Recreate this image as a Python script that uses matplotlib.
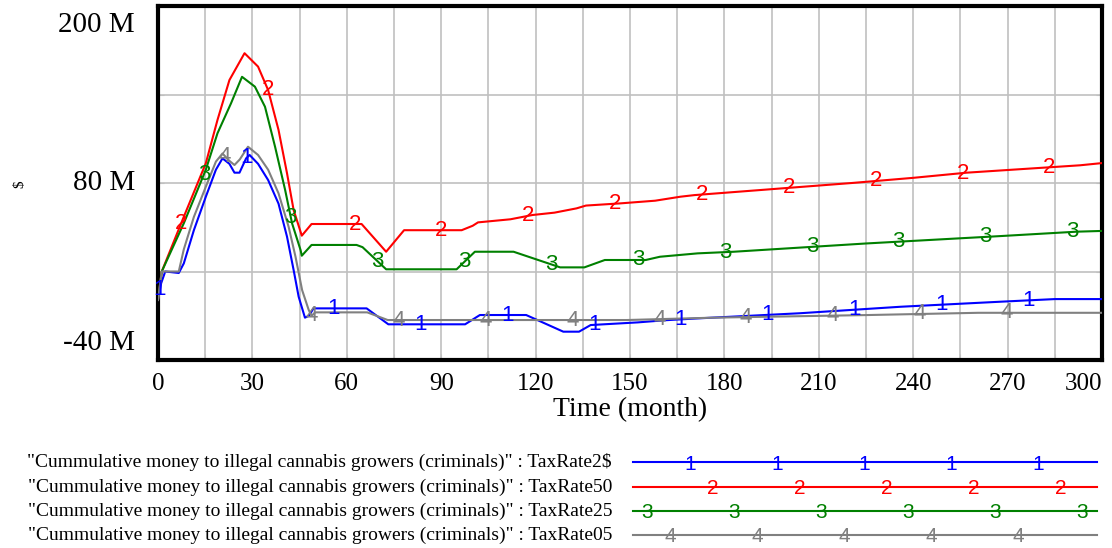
import numpy as np
import matplotlib
matplotlib.use("Agg")
import matplotlib.pyplot as plt
from matplotlib.lines import Line2D
from matplotlib.transforms import ScaledTranslation, blended_transform_factory

plt.rcParams['font.family'] = ['Liberation Serif', 'DejaVu Serif']

# ---------------------------------------------------------------------------
# data (time in months, value in M$)
# ---------------------------------------------------------------------------
t_2s = [0, 1, 2.3, 6.6, 8.2, 11.4, 15.2, 18.4, 20.5, 22.7, 24.3, 25.9, 28, 29.1,
        31.8, 35, 38.3, 41, 43.1, 44.7, 46.7, 48, 49.4, 66.3, 73.2, 97.6, 102.3,
        117, 128.8, 133.8, 137.5, 152.5, 161.5, 171.5, 204, 236, 267.6, 285, 300]
v_2s = [0.7, 12, 20, 19, 25.5, 48, 70.7, 89, 96.7, 93, 87, 87, 96.7, 99,
        93, 82, 66, 43.6, 21, 2.9, -11.3, -10, -5, -5, -15.8, -15.8, -9.5,
        -9.5, -20.8, -20.8, -16.3, -14.5, -13, -11.8, -8.3, -3.9, -0.5, 1.3, 1.3]

t_50 = [0, 1.2, 8.2, 15.2, 18.9, 22.7, 27.5, 31.8, 35, 38.3, 41, 43.1, 45.7,
        48.8, 64.7, 72.5, 78.2, 96.5, 100, 101.7, 112, 119, 126, 133, 136,
        147, 158, 166, 170.5, 190, 220.5, 240, 257, 275, 293, 300]
v_50 = [0.7, 20, 57.1, 93.4, 122.7, 149.8, 168, 158.9, 143, 116, 86.6, 61.7, 44.3,
        52.2, 52.2, 33.4, 48, 48, 51, 53.3, 55.4, 58.3, 59.9, 62.8, 64.7,
        66.2, 68, 70.7, 71.8, 75, 80, 83.5, 87, 89.5, 92, 93.5]

t_25 = [0, 1.2, 8.2, 15.2, 18.9, 23.2, 26.7, 30.8, 34, 37.2, 40.4, 42.6, 45.3,
        45.7, 48.8, 63.1, 65, 72.5, 94.9, 100.7, 113, 127.8, 135.5, 142, 155,
        159.5, 171.5, 183, 225, 267.6, 292, 300]
v_25 = [0.7, 20, 52.7, 89, 113.7, 134, 152, 145.3, 131.7, 104.6, 75.3, 52.7, 34.6,
        30.7, 38, 38, 36.5, 21.5, 21.5, 33.4, 33.4, 22.8, 22.8, 27.8, 27.8,
        30, 32.3, 33.4, 39, 44, 47, 47.5]

t_05 = [0, 1.2, 6.6, 8.2, 11.4, 15.2, 18.4, 20.5, 22.7, 24.3, 26, 28.6, 31.8, 35,
        38.3, 41.5, 43.7, 45.8, 47.9, 48.8, 50, 66.5, 73, 149, 176.5, 226,
        260.7, 300]
v_05 = [0.7, 20, 20, 35, 57, 77.5, 94.5, 100, 95, 92.2, 96, 104.6, 99, 89,
        73, 50.4, 30, 7.4, -6.1, -10, -7.7, -7.7, -12.9, -12.9, -11.3, -9.5,
        -8, -8]

series_names = ['TaxRate2$', 'TaxRate50', 'TaxRate25', 'TaxRate05']
series_t = [t_2s, t_50, t_25, t_05]
series_v = [v_2s, v_50, v_25, v_05]
series_colors = ['#0000ff', '#ff0000', '#008000', '#808080']
series_marks = ['1', '2', '3', '4']
mark_start = [0.6, 7.3, 14.6, 21.3]
mark_step = 27.6

x_ticks = list(range(0, 301, 30))
y_grid = [-40, 20, 80, 140, 200]
y_labels = ['-40 M', '80 M', '200 M']
y_label_pos = [-28.5, 80, 187]   # Vensim pulls the end labels inside the frame

var_label = '"Cummulative money to illegal cannabis growers (criminals)" : '

# ---------------------------------------------------------------------------
fig = plt.figure(figsize=(11.12, 5.48), dpi=100)
ax = fig.add_axes([158 / 1112, 1 - 360 / 548, (1102 - 158) / 1112, (360 - 6) / 548])

for t, v, c, m, s0 in zip(series_t, series_v, series_colors, series_marks, mark_start):
    ax.plot(t, v, color=c, lw=1.5, zorder=3)
    for tt in np.arange(s0, 292, mark_step):
        ax.text(tt, np.interp(tt, t, v), m, color=c, fontsize=16,
                family='Liberation Sans', ha='center', va='center', zorder=4)

ax.set_xlim(0, 300)
ax.set_ylim(-40, 200)
ax.set_xticks(np.arange(0, 301, 15))
ax.set_xticklabels([str(int(x)) if x in x_ticks else '' for x in np.arange(0, 301, 15)],
                   fontsize=18)
xl = ax.get_xticklabels()
xl[-1].set_ha('right')
xl[-1].set_transform(xl[-1].get_transform() + ScaledTranslation(8 / 100, 0, fig.dpi_scale_trans))
ax.set_yticks(y_grid)
ax.set_yticklabels([])
ytrans = blended_transform_factory(ax.transAxes, ax.transData)
for lab, yp in zip(y_labels, y_label_pos):
    ax.text(-23 / 944, yp, lab, transform=ytrans, fontsize=21,
            ha='right', va='center', clip_on=False)

ax.grid(True, color='#c0c0c0', lw=1.2, zorder=0)
ax.tick_params(axis='x', direction='in', length=4, color='#c0c0c0', pad=9, top=False)
ax.tick_params(axis='y', direction='in', length=4, color='#c0c0c0', right=True)
for sp in ax.spines.values():
    sp.set_linewidth(3)
    sp.set_color('black')

ax.set_xlabel('Time (month)', fontsize=20, labelpad=2)
fig.text(20 / 1112, 1 - 184 / 548, '$', rotation=90, fontsize=11, ha='center', va='center')

# legend drawn in figure pixels
legend_y = [462, 487, 511, 535]
legend_mark_x0 = [690, 713, 647, 670]
for i in range(4):
    yf = 1 - legend_y[i] / 548
    fig.text(612 / 1112, yf, var_label + series_names[i], fontsize=14,
             ha='right', va='center')
    fig.add_artist(Line2D([633 / 1112, 1097 / 1112], [yf, yf],
                          color=series_colors[i], lw=1.5, transform=fig.transFigure))
    for xm in np.arange(legend_mark_x0[i], 1097, 87):
        fig.text(xm / 1112, yf - 2 / 548, series_marks[i], color=series_colors[i],
                 fontsize=15, family='Liberation Sans', ha='center', va='center')

fig.savefig('out.png', dpi=100)
